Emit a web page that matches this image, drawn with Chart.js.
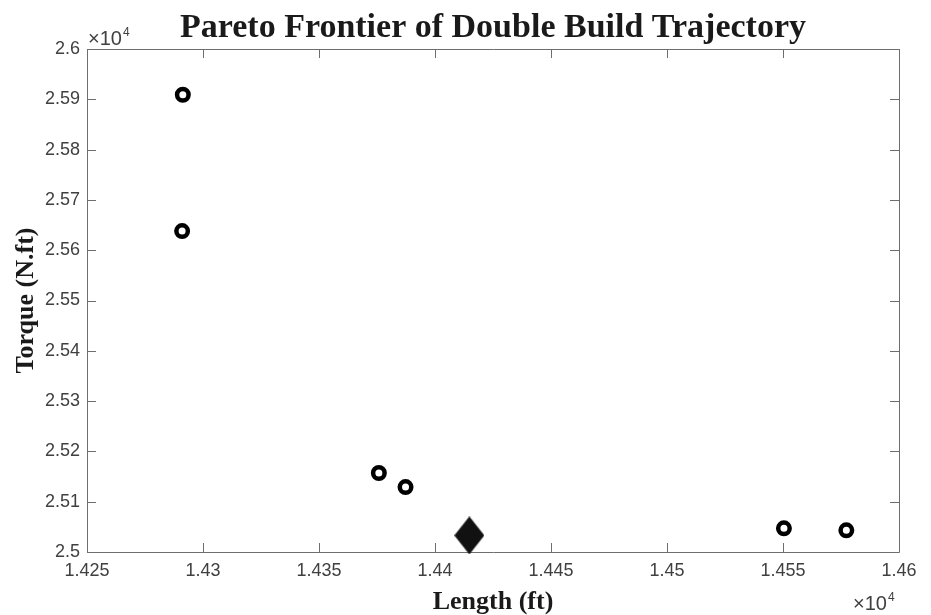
<!DOCTYPE html>
<html>
<head>
<meta charset="utf-8">
<script src="https://cdn.jsdelivr.net/npm/chart.js@4/dist/chart.umd.min.js"></script>
<style>
  html, body { margin: 0; padding: 0; background: #fff; }
  #wrap { width: 931px; height: 615px; }
</style>
</head>
<body>
<div id="wrap"><canvas id="c" width="931" height="615"></canvas></div>
<script>
// Pareto front candidates: length (ft) vs torque (N.ft)
const paretoLength = [14291.3, 14291.0, 14375.8, 14387.3, 14550.4, 14577.3];
const paretoTorque = [25909, 25638, 25157, 25129, 25047, 25043];
// Selected compromise design
const chosenLength = [14414.8];
const chosenTorque = [25033];

// Axis ticks (labels shown scaled by 10^4)
const xTicks = [14250, 14300, 14350, 14400, 14450, 14500, 14550, 14600];
const yTicks = [25000, 25100, 25200, 25300, 25400, 25500, 25600, 25700, 25800, 25900, 26000];
const tickScale = 1e4;

const AXIS_COLOR = '#6e6e6e';
const LABEL_COLOR = '#404040';
const SANS = '"Liberation Sans", Arial, sans-serif';
const SERIF = '"Liberation Serif", "Times New Roman", serif';

function fmt(v) {
  return String(Math.round((v / tickScale) * 1e6) / 1e6);
}

// Tall filled diamond used for the chosen design
function diamondMarker(w, h) {
  const cv = document.createElement('canvas');
  cv.width = w; cv.height = h;
  const g = cv.getContext('2d');
  g.fillStyle = '#111';
  g.beginPath();
  g.moveTo(w / 2, 0);
  g.lineTo(w, h / 2);
  g.lineTo(w / 2, h);
  g.lineTo(0, h / 2);
  g.closePath();
  g.fill();
  return cv;
}

// Box around the plot with inward tick marks on all four sides, plus exponent labels
const boxPlugin = {
  id: 'boxTicks',
  beforeDatasetsDraw(chart) {
    const { ctx, chartArea: a, scales } = chart;
    const xs = scales.x, ys = scales.y;
    const tl = 9;
    ctx.save();
    ctx.strokeStyle = AXIS_COLOR;
    ctx.lineWidth = 1;
    ctx.beginPath();
    ctx.rect(Math.round(a.left) + 0.5, Math.round(a.top) + 0.5,
             Math.round(a.right - a.left), Math.round(a.bottom - a.top));
    ctx.stroke();
    ctx.beginPath();
    xTicks.forEach(v => {
      const px = Math.round(xs.getPixelForValue(v)) + 0.5;
      ctx.moveTo(px, a.bottom); ctx.lineTo(px, a.bottom - tl);
      ctx.moveTo(px, a.top); ctx.lineTo(px, a.top + tl);
    });
    yTicks.forEach(v => {
      const py = Math.round(ys.getPixelForValue(v)) + 0.5;
      ctx.moveTo(a.left, py); ctx.lineTo(a.left + tl, py);
      ctx.moveTo(a.right, py); ctx.lineTo(a.right - tl, py);
    });
    ctx.stroke();

    // ×10^4 multipliers
    ctx.fillStyle = LABEL_COLOR;
    ctx.textBaseline = 'alphabetic';
    ctx.textAlign = 'left';
    const drawExp = (x, y) => {
      ctx.font = '20px ' + SANS;
      const base = '\u00d710';
      ctx.fillText(base, x, y);
      const w = ctx.measureText(base).width;
      ctx.font = '12px ' + SANS;
      ctx.fillText('4', x + w + 1, y - 9);
    };
    drawExp(a.left + 1, a.top - 4);
    drawExp(853, 610);
    ctx.restore();
  }
};

new Chart(document.getElementById('c'), {
  type: 'scatter',
  data: {
    datasets: [
      {
        label: 'Pareto front',
        data: paretoLength.map((x, i) => ({ x, y: paretoTorque[i] })),
        pointStyle: 'circle',
        pointRadius: 5.75,
        pointHoverRadius: 5.75,
        pointBorderWidth: 4.5,
        pointBorderColor: '#000',
        pointBackgroundColor: '#fff',
        clip: false
      },
      {
        label: 'Chosen design',
        data: chosenLength.map((x, i) => ({ x, y: chosenTorque[i] })),
        pointStyle: diamondMarker(30, 38),
        pointRadius: 15,
        clip: false
      }
    ]
  },
  options: {
    responsive: false,
    animation: false,
    devicePixelRatio: 1,
    layout: { padding: { left: 0, right: 32, top: 0, bottom: 0 } },
    plugins: {
      legend: { display: false },
      tooltip: { enabled: false },
      title: {
        display: true,
        fullSize: false,
        text: 'Pareto Frontier of Double Build Trajectory',
        color: '#1a1a1a',
        font: { family: SERIF, size: 34, weight: 'bold', lineHeight: 1.2 },
        padding: { top: 7.6, bottom: 0.6 }
      }
    },
    scales: {
      x: {
        type: 'linear',
        min: xTicks[0],
        max: xTicks[xTicks.length - 1],
        afterBuildTicks: s => { s.ticks = xTicks.map(v => ({ value: v })); },
        afterFit: s => { s.height = 63; },
        grid: { display: false, drawTicks: false },
        border: { display: false },
        ticks: {
          padding: 8,
          color: LABEL_COLOR,
          maxRotation: 0,
          font: { family: SANS, size: 18 },
          callback: v => fmt(v)
        },
        title: {
          display: true,
          text: 'Length (ft)',
          color: '#1a1a1a',
          font: { family: SERIF, size: 26, weight: 'bold', lineHeight: 1.0 },
          padding: { top: 0, bottom: 0 }
        }
      },
      y: {
        type: 'linear',
        min: yTicks[0],
        max: yTicks[yTicks.length - 1],
        afterBuildTicks: s => { s.ticks = yTicks.map(v => ({ value: v })); },
        afterFit: s => { s.width = 87; },
        grid: { display: false, drawTicks: false },
        border: { display: false },
        ticks: {
          padding: 7,
          color: LABEL_COLOR,
          font: { family: SANS, size: 18 },
          callback: v => fmt(v)
        },
        title: {
          display: true,
          text: 'Torque (N.ft)',
          color: '#1a1a1a',
          font: { family: SERIF, size: 26, weight: 'bold', lineHeight: 1.0 },
          padding: { top: 13, bottom: 0 }
        }
      }
    }
  },
  plugins: [boxPlugin]
});
</script>
</body>
</html>
